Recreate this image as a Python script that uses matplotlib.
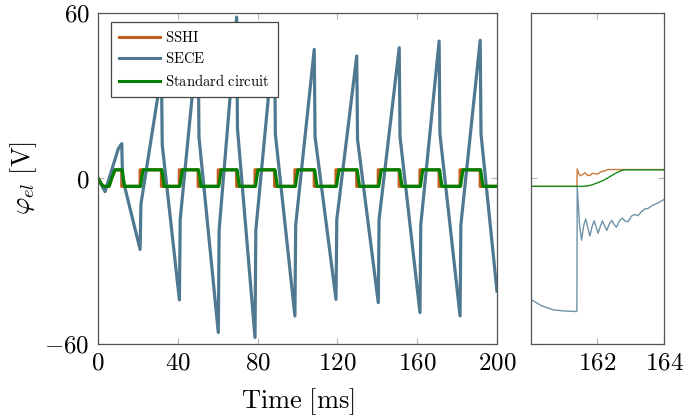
import numpy as np
import matplotlib.pyplot as plt

plt.rcParams['mathtext.fontset'] = 'cm'
plt.rcParams['font.family'] = 'DejaVu Serif'

### donnees (temps en ms, tension en V)

sece_t = [0, 3.5, 10.2, 11.9, 12.3, 21.1, 21.5, 31.8, 32.2, 40.8, 41.2, 50.2, 50.6,
          60.3, 60.7, 69.5, 69.9, 78.7, 79.1, 88.5, 88.9, 98.7, 99.1, 108.4, 108.8,
          119.3, 119.7, 129.7, 130.1, 140.5, 140.9, 151.0, 151.4, 161.4, 161.8,
          171.0, 171.4, 181.5, 181.9, 191.6, 192.0, 200.0]
sece_v = [0, -4.9, 10.7, 12.5, 0.0, -25.9, -9.5, 38.0, 12.0, -44.2, -15.0, 52.0, 15.0,
          -56.0, -19.0, 58.4, 18.0, -57.8, -19.0, 53.0, 16.0, -50.0, -17.0, 46.7, 15.0,
          -44.0, -15.0, 44.3, 14.0, -45.2, -15.0, 47.3, 15.0, -48.8, -17.0,
          49.7, 16.0, -50.0, -17.0, 50.0, 16.0, -41.0]

sshi_t = [0, 1.5, 2.7, 5.5, 6.9, 8.5, 11.9, 11.9, 21.1, 21.1, 31.8, 31.8, 40.8, 40.8,
          50.2, 50.2, 60.3, 60.3, 69.5, 69.5, 78.7, 78.7, 88.5, 88.5, 98.7, 98.7,
          108.4, 108.4, 119.3, 119.3, 129.7, 129.7, 140.5, 140.5, 151.0, 151.0,
          161.4, 161.4, 171.0, 171.0, 181.5, 181.5, 191.6, 191.6, 200.0]
sshi_v = [0, -2, -3, -3, 0, 3, 3, -3, -3, 3, 3, -3, -3, 3,
          3, -3, -3, 3, 3, -3, -3, 3, 3, -3, -3, 3,
          3, -3, -3, 3, 3, -3, -3, 3, 3, -3,
          -3, 3, 3, -3, -3, 3, 3, -3, -3]

std_t = [0, 1.5, 2.7, 5.5, 6.9, 8.5, 12.1, 13.3, 21.3, 22.6, 32.0, 33.2, 41.0, 42.3,
         50.4, 51.6, 60.5, 61.8, 69.7, 70.9, 78.9, 80.2, 88.7, 89.9, 98.9, 100.2,
         108.6, 109.8, 119.5, 120.8, 129.9, 131.1, 140.7, 142.0, 151.2, 152.4,
         161.6, 162.8, 171.2, 172.4, 181.7, 183.0, 191.8, 193.0, 200.0]
std_v = sshi_v

# zoom autour de 162 ms
zoom_sece_t = [160.0, 160.3, 160.67, 161.0, 161.38, 161.39, 161.46, 161.52, 161.59, 161.645,
               161.71, 161.77, 161.84, 161.90, 161.96, 162.02, 162.09, 162.15, 162.22,
               162.28, 162.36, 162.43, 162.50, 162.57, 162.66, 162.75, 162.83, 162.92,
               163.02, 163.12, 163.22, 163.32, 163.42, 163.52, 163.67, 163.82, 164.0]
zoom_sece_v = [-44.0, -46.2, -47.8, -48.2, -48.4, -3.0, -17.0, -22.5, -17.0, -14.8,
               -18.0, -21.0, -17.5, -15.5, -17.8, -20.0, -17.3, -15.5, -17.5,
               -19.0, -16.5, -15.3, -16.8, -17.8, -15.5, -14.5, -15.6, -15.8,
               -13.8, -13.2, -13.6, -12.2, -11.2, -11.0, -9.8, -9.0, -7.8]
zoom_sshi_t = [160.0, 161.38, 161.39, 161.44, 161.50, 161.57, 161.63, 161.70, 161.77,
               161.84, 161.92, 162.0, 162.1, 162.2, 162.3, 164.0]
zoom_sshi_v = [-3.0, -3.0, 3.3, 1.5, 0.8, 1.5, 1.9, 1.0, 0.9, 1.7, 1.6, 1.4, 2.3, 2.5, 3.1, 3.1]
zoom_std_t = [160.0, 161.58, 161.8, 161.98, 162.15, 162.27, 162.4, 162.52, 162.65, 162.8, 164.0]
zoom_std_v = [-3.0, -3.0, -2.6, -1.8, -1.0, -0.2, 0.7, 1.6, 2.4, 3.0, 3.0]

c_sshi = '#c2611c'
c_sece = '#4e7991'
c_std = '#008000'


def style_axes(ax):
    for s in ax.spines.values():
        s.set_color('#555555')
        s.set_linewidth(0.9)
    ax.tick_params(direction='in', length=4, width=0.8, color='#b5b5b5',
                   top=True, right=True, labelsize=18, pad=6)


fig = plt.figure(figsize=(6.85, 4.18), dpi=100)
ax = fig.add_axes([0.1431, 0.1782, 0.5824, 0.7915])
axz = fig.add_axes([0.7752, 0.1782, 0.1941, 0.7915])

ax.plot(sshi_t, sshi_v, color=c_sshi, lw=2.3, label=r'$\mathrm{SSHI}$')
ax.plot(sece_t, sece_v, color=c_sece, lw=2.3, label=r'$\mathrm{SECE}$')
ax.plot(std_t, std_v, color=c_std, lw=2.3, label=r'$\mathrm{Standard\ circuit}$')
ax.set_xlim(0, 200)
ax.set_ylim(-60, 60)
ax.set_xticks([0, 40, 80, 120, 160, 200])
ax.set_xticklabels(['$%d$' % v for v in [0, 40, 80, 120, 160, 200]])
ax.set_yticks([-60, 0, 60])
ax.set_yticklabels(['$-60$', '$0$', '$60$'])
ax.set_xlabel(r'$\mathrm{Time\ [ms]}$', fontsize=19, labelpad=8)
ax.set_ylabel(r'$\varphi_{el}\ \mathrm{[V]}$', fontsize=19, labelpad=4)
style_axes(ax)

leg = ax.legend(loc='upper left', bbox_to_anchor=(0.032, 0.973), borderaxespad=0,
                fontsize=10.5, frameon=True, fancybox=False, framealpha=1,
                edgecolor='#444444', handlelength=2.8, handletextpad=0.4,
                labelspacing=0.45, borderpad=0.55)
leg.get_frame().set_linewidth(0.9)
for h in leg.get_lines():
    h.set_linewidth(2.2)

axz.plot(zoom_sshi_t, zoom_sshi_v, color='#cc7a3a', lw=1.0)
axz.plot(zoom_sece_t, zoom_sece_v, color='#6f93a8', lw=1.0)
axz.plot(zoom_std_t, zoom_std_v, color='#1a8a1a', lw=1.0)
axz.set_xlim(160, 164)
axz.set_ylim(-60, 60)
axz.set_xticks([162, 164])
axz.set_xticklabels(['$162$', '$164$'])
axz.set_yticks([-60, 0, 60])
axz.set_yticklabels([])
style_axes(axz)

fig.savefig('out.png', dpi=100)
